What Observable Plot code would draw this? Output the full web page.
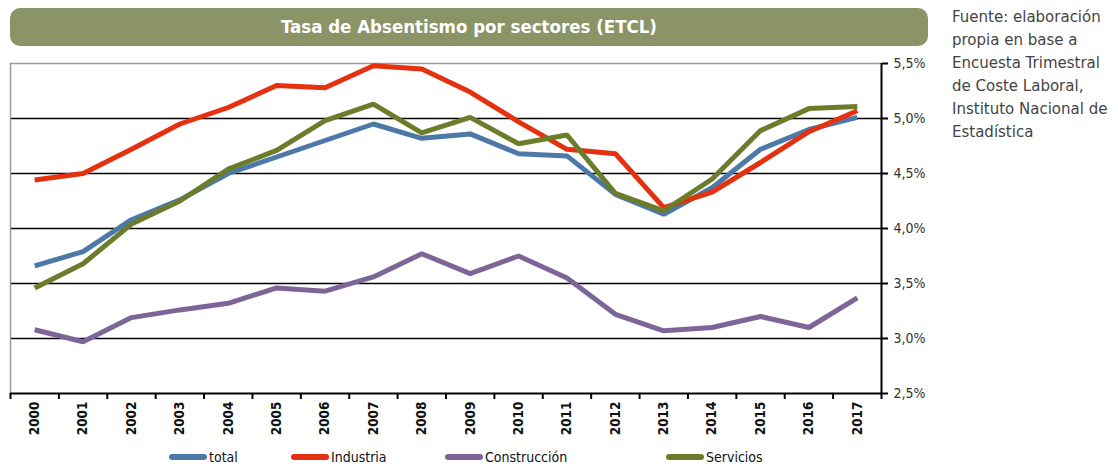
<!DOCTYPE html>
<html><head><meta charset="utf-8">
<script src="https://cdn.jsdelivr.net/npm/d3@7"></script>
<script src="https://cdn.jsdelivr.net/npm/@observablehq/plot@0.6"></script>
<style>
body{margin:0;background:#fff;width:1118px;height:466px;position:relative;overflow:hidden;font-family:"DejaVu Sans Condensed","DejaVu Sans",sans-serif;font-stretch:condensed;}
#chart{position:absolute;left:0;top:0;}
#title{position:absolute;left:10px;top:8px;width:918px;height:38px;border-radius:10px;background:#8b9467;color:#fff;font-weight:bold;font-size:18.5px;line-height:38px;text-align:center;}
#src{position:absolute;left:952px;top:6px;font-family:"DejaVu Sans",sans-serif;font-stretch:normal;font-size:15px;line-height:23px;color:#444;}
#legend{position:absolute;left:0;top:448px;height:18px;width:940px;font-size:14px;color:#111;}
.item{position:absolute;top:0;display:flex;align-items:center;height:18px;}
.sw{display:inline-block;width:38px;height:6px;border-radius:3px;margin-right:2px;}
</style></head>
<body>
<div id="chart"></div>
<div id="title">Tasa de Absentismo por sectores (ETCL)</div>
<div id="src">Fuente: elaboración<br>propia en base a<br>Encuesta Trimestral<br>de Coste Laboral,<br>Instituto Nacional de<br>Estadística</div>
<div id="legend"></div>
<script>
const years = [2000,2001,2002,2003,2004,2005,2006,2007,2008,2009,2010,2011,2012,2013,2014,2015,2016,2017];
const total =        [3.66,3.79,4.08,4.26,4.50,4.65,4.80,4.95,4.82,4.86,4.68,4.66,4.31,4.13,4.37,4.72,4.90,5.01];
const industria =    [4.44,4.50,4.72,4.95,5.10,5.30,5.28,5.48,5.45,5.24,4.97,4.72,4.68,4.19,4.33,4.60,4.88,5.07];
const construccion = [3.08,2.97,3.19,3.26,3.32,3.46,3.43,3.56,3.77,3.59,3.75,3.55,3.22,3.07,3.10,3.20,3.10,3.37];
const servicios =    [3.46,3.68,4.04,4.25,4.54,4.71,4.98,5.13,4.87,5.01,4.77,4.85,4.32,4.16,4.45,4.89,5.09,5.11];
const seriesNames = ["total","Industria","Construcción","Servicios"];
const seriesColors = ["#4d79a9","#e5310f","#7d6597","#6b7c2a"];
const yTicks = [2.5,3.0,3.5,4.0,4.5,5.0,5.5];

const seriesValues = [total, industria, construccion, servicios];
const rows = [];
seriesNames.forEach((s,i)=>years.forEach((y,j)=>rows.push({serie:s,year:y,value:seriesValues[i][j]})));
const bounds = years.map(y=>y-0.5).concat([years[years.length-1]+0.5]);
const yMin = yTicks[0], yMax = yTicks[yTicks.length-1];
const fmt = d => d.toFixed(1).replace(".",",") + "%";
const font = '"DejaVu Sans Condensed","DejaVu Sans",sans-serif';

const chart = Plot.plot({
  width:940, height:466,
  marginTop:63, marginBottom:73, marginLeft:10, marginRight:59,
  x:{type:"linear", domain:[bounds[0], bounds[bounds.length-1]]},
  y:{domain:[yMin,yMax]},
  color:{domain:seriesNames, range:seriesColors},
  style:{fontFamily:font, fontSize:"14px", color:"#222", background:"transparent", fontStretch:"condensed"},
  marks:[
    Plot.ruleY(yTicks.filter(t=>t>yMin && t<yMax), {stroke:"#000", strokeWidth:1.6}),
    Plot.ruleY([yMax], {stroke:"#9a9a9a", strokeWidth:1.5}),
    Plot.ruleX([bounds[0]], {stroke:"#9a9a9a", strokeWidth:1.5}),
    Plot.line(rows, {x:"year", y:"value", z:"serie", stroke:"serie", strokeWidth:5, strokeLinejoin:"miter", strokeLinecap:"butt"}),
    Plot.ruleX([bounds[bounds.length-1]], {stroke:"#000", strokeWidth:2}),
    Plot.ruleY([yMin], {stroke:"#000", strokeWidth:2}),
    Plot.axisY({anchor:"right", ticks:yTicks, tickFormat:fmt, tickSize:6, tickPadding:6, label:null, stroke:"#000", strokeWidth:2, fill:"#333", fontSize:14}),
    Plot.axisX({ticks:bounds, tickFormat:()=>"", tickSize:6, label:null, stroke:"#000", strokeWidth:2}),
    Plot.axisX({ticks:years, tickSize:0, tickRotate:-90, tickPadding:8, tickFormat:d=>String(d), label:null, fontWeight:"bold", fill:"#111", fontSize:13.5})
  ]
});
document.getElementById("chart").appendChild(chart);

const legendLeft = [169,291,445,666];
const leg = document.getElementById("legend");
seriesNames.forEach((s,i)=>{
  const it = document.createElement("div");
  it.className = "item";
  it.style.left = legendLeft[i] + "px";
  it.innerHTML = `<span class="sw" style="background:${seriesColors[i]}"></span><span>${s}</span>`;
  leg.appendChild(it);
});
</script>
</body></html>
